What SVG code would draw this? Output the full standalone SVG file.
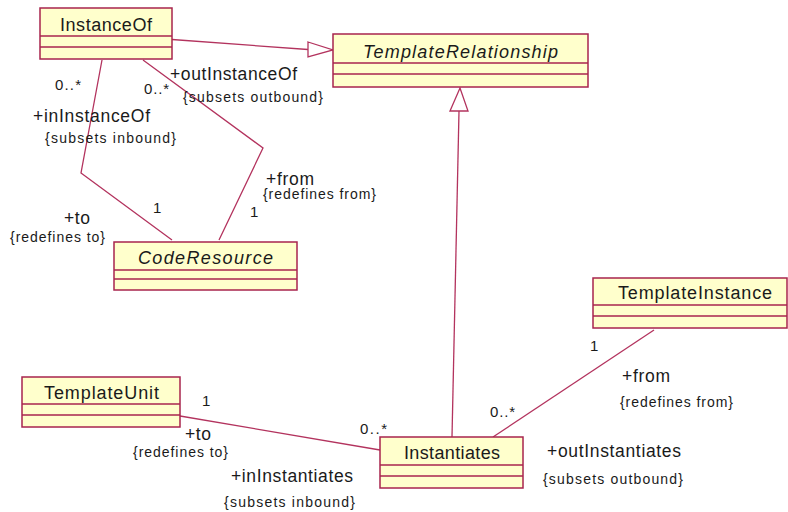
<svg xmlns="http://www.w3.org/2000/svg" width="788" height="512" viewBox="0 0 788 512">
  <style>
    .box { fill: #FFFFCC; stroke: #A8244E; stroke-width: 1.5; }
    .div { stroke: #A8244E; stroke-width: 1.3; fill: none; }
    .edge { stroke: #B3335E; stroke-width: 1.3; fill: none; }
    .head { stroke: #B3335E; stroke-width: 1.3; fill: #FFFFFF; }
    text { font-family: "Liberation Sans", Arial, sans-serif; fill: #1a1a1a; }
    .name { font-size: 18px; }
    .abs { font-size: 18px; font-style: italic; }
    .role { font-size: 17.5px; }
    .note { font-size: 14px; }
    .mult { font-size: 15px; }
  </style>

  <!-- connectors -->
  <g id="connectors">
    <!-- InstanceOf generalizes TemplateRelationship -->
    <line class="edge" x1="172" y1="39.5" x2="308" y2="49.5"/>
    <polygon class="head" points="308,42 333,50 308,57"/>
    <!-- Instantiates generalizes TemplateRelationship -->
    <line class="edge" x1="459" y1="111" x2="452" y2="437"/>
    <polygon class="head" points="450,111 460,88 468,111"/>
    <!-- InstanceOf.to -> CodeResource -->
    <polyline class="edge" points="102,60 81,173 172,240"/>
    <!-- InstanceOf.from -> CodeResource -->
    <polyline class="edge" points="143,60 263,148 219,240"/>
    <!-- TemplateUnit - Instantiates -->
    <line class="edge" x1="180" y1="416" x2="380" y2="450"/>
    <!-- TemplateInstance - Instantiates -->
    <line class="edge" x1="654" y1="330" x2="493" y2="437"/>
  </g>

  <g id="InstanceOf">
    <rect class="box" x="40" y="8" width="132" height="51"/>
    <line class="div" x1="40" y1="36" x2="172" y2="36"/>
    <line class="div" x1="40" y1="47" x2="172" y2="47"/>
    <text class="name" x="60" y="30.5" textLength="92" lengthAdjust="spacing">InstanceOf</text>
  </g>

  <g id="TemplateRelationship">
    <rect class="box" x="333" y="34" width="255" height="53"/>
    <line class="div" x1="333" y1="63" x2="588" y2="63"/>
    <line class="div" x1="333" y1="74" x2="588" y2="74"/>
    <text class="abs" x="363" y="58" textLength="195" lengthAdjust="spacing">TemplateRelationship</text>
  </g>

  <g id="CodeResource">
    <rect class="box" x="114" y="242" width="183" height="48"/>
    <line class="div" x1="114" y1="270" x2="297" y2="270"/>
    <line class="div" x1="114" y1="279" x2="297" y2="279"/>
    <text class="abs" x="138" y="264" textLength="135" lengthAdjust="spacing">CodeResource</text>
  </g>

  <g id="TemplateUnit">
    <rect class="box" x="22" y="377" width="158" height="50"/>
    <line class="div" x1="22" y1="404" x2="180" y2="404"/>
    <line class="div" x1="22" y1="415" x2="180" y2="415"/>
    <text class="name" x="44" y="399" textLength="115" lengthAdjust="spacing">TemplateUnit</text>
  </g>

  <g id="TemplateInstance">
    <rect class="box" x="593" y="278" width="194" height="50"/>
    <line class="div" x1="593" y1="305" x2="787" y2="305"/>
    <line class="div" x1="593" y1="316" x2="787" y2="316"/>
    <text class="name" x="618" y="299" textLength="154" lengthAdjust="spacing">TemplateInstance</text>
  </g>

  <g id="Instantiates">
    <rect class="box" x="380" y="437" width="143" height="51"/>
    <line class="div" x1="380" y1="465" x2="523" y2="465"/>
    <line class="div" x1="380" y1="476" x2="523" y2="476"/>
    <text class="name" x="404" y="459" textLength="96" lengthAdjust="spacing">Instantiates</text>
  </g>

  <!-- association end labels -->
  <g id="labels">
    <text class="mult" x="55" y="90" textLength="26" lengthAdjust="spacing">0..*</text>
    <text class="mult" x="144" y="94" textLength="25" lengthAdjust="spacing">0..*</text>
    <text class="role" x="170" y="80" textLength="127" lengthAdjust="spacing">+outInstanceOf</text>
    <text class="note" x="183" y="102" textLength="140" lengthAdjust="spacing">{subsets outbound}</text>
    <text class="role" x="33" y="122" textLength="117" lengthAdjust="spacing">+inInstanceOf</text>
    <text class="note" x="45" y="143" textLength="131" lengthAdjust="spacing">{subsets inbound}</text>
    <text class="role" x="266" y="185" textLength="48" lengthAdjust="spacing">+from</text>
    <text class="note" x="263" y="198.5" textLength="113" lengthAdjust="spacing">{redefines from}</text>
    <text class="mult" x="153" y="213">1</text>
    <text class="mult" x="250" y="217">1</text>
    <text class="role" x="64" y="224" textLength="26" lengthAdjust="spacing">+to</text>
    <text class="note" x="10" y="242" textLength="95" lengthAdjust="spacing">{redefines to}</text>

    <text class="mult" x="202" y="406">1</text>
    <text class="mult" x="360" y="434" textLength="27" lengthAdjust="spacing">0..*</text>
    <text class="role" x="185" y="440" textLength="26" lengthAdjust="spacing">+to</text>
    <text class="note" x="133" y="457" textLength="95" lengthAdjust="spacing">{redefines to}</text>
    <text class="role" x="231" y="482" textLength="122" lengthAdjust="spacing">+inInstantiates</text>
    <text class="note" x="224" y="507" textLength="131" lengthAdjust="spacing">{subsets inbound}</text>

    <text class="mult" x="590" y="351">1</text>
    <text class="role" x="622" y="382" textLength="48" lengthAdjust="spacing">+from</text>
    <text class="note" x="620" y="407" textLength="113" lengthAdjust="spacing">{redefines from}</text>
    <text class="mult" x="490" y="417" textLength="25" lengthAdjust="spacing">0..*</text>
    <text class="role" x="547" y="457" textLength="134" lengthAdjust="spacing">+outInstantiates</text>
    <text class="note" x="543" y="484" textLength="140" lengthAdjust="spacing">{subsets outbound}</text>
  </g>
</svg>
